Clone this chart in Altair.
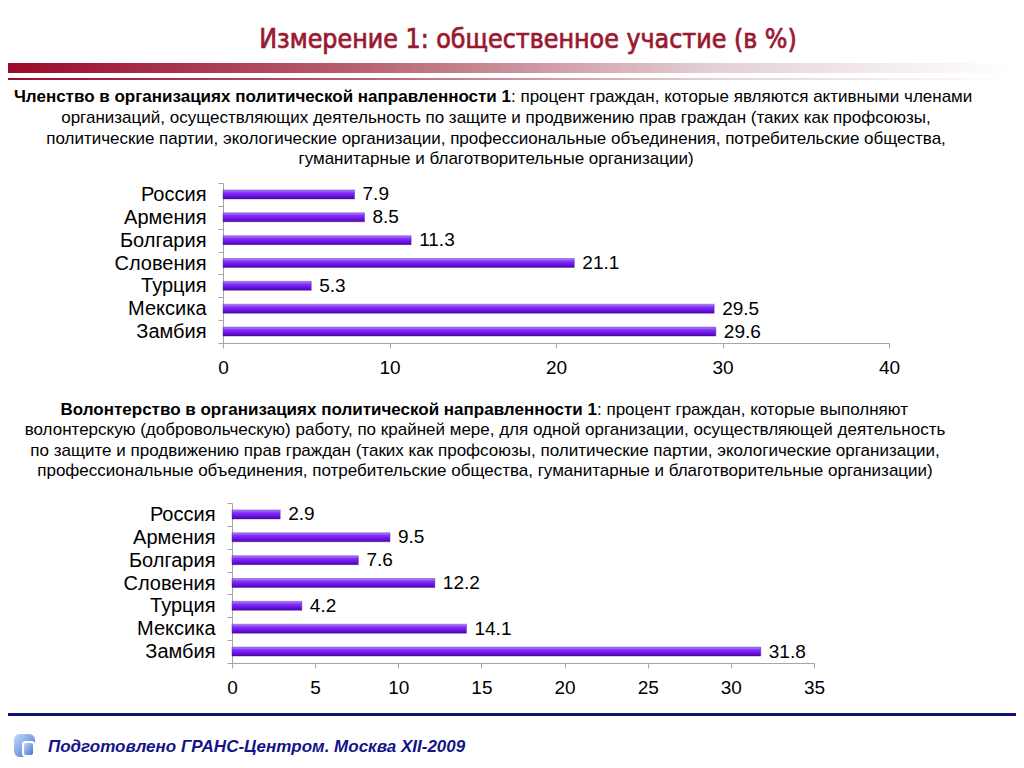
import altair as alt
import pandas as pd

countries = ["Россия", "Армения", "Болгария", "Словения", "Турция", "Мексика", "Замбия"]
membership = [7.9, 8.5, 11.3, 21.1, 5.3, 29.5, 29.6]
volunteer = [2.9, 9.5, 7.6, 12.2, 4.2, 14.1, 31.8]
ticks1 = [0, 10, 20, 30, 40]
ticks2 = [0, 5, 10, 15, 20, 25, 30, 35]

title_text = "Измерение 1: общественное участие (в %)"
block1_bold = "Членство в организациях политической направленности 1"
block1_first = ": процент граждан, которые являются активными членами"
block1_rest = [
    "организаций, осуществляющих деятельность по защите и продвижению прав граждан (таких как профсоюзы,",
    "политические партии, экологические организации, профессиональные объединения, потребительские общества,",
    "гуманитарные и благотворительные организации)",
]
block2_bold = "Волонтерство в организациях политической направленности 1"
block2_first = ": процент граждан, которые выполняют"
block2_rest = [
    "волонтерскую (добровольческую) работу, по крайней мере, для одной организации, осуществляющей деятельность",
    "по защите и продвижению прав граждан (таких как профсоюзы, политические партии, экологические организации,",
    "профессиональные объединения, потребительские общества, гуманитарные и благотворительные организации)",
]
footer_text = "Подготовлено ГРАНС-Центром. Москва XII-2009"

FONT = "Liberation Sans"
one = alt.Data(values=[{"k": 1}])

bar_fill = alt.Gradient(
    gradient="linear", x1=0, x2=0, y1=0, y2=1,
    stops=[
        alt.GradientStop(offset=0, color="#b48cff"),
        alt.GradientStop(offset=0.3, color="#8433f6"),
        alt.GradientStop(offset=0.7, color="#6a10e6"),
        alt.GradientStop(offset=1, color="#4608a0"),
    ],
)
red_fill = alt.Gradient(
    gradient="linear", x1=0, x2=1, y1=0, y2=0,
    stops=[
        alt.GradientStop(offset=0, color="#9b0a2a"),
        alt.GradientStop(offset=0.35, color="#b8606f"),
        alt.GradientStop(offset=0.7, color="#e3cfd4"),
        alt.GradientStop(offset=1, color="#ffffff"),
    ],
)
logo_fill = alt.Gradient(
    gradient="linear", x1=0, x2=1, y1=0, y2=1,
    stops=[
        alt.GradientStop(offset=0, color="#c4daf6"),
        alt.GradientStop(offset=1, color="#3f6fd8"),
    ],
)


def txt(text, x, y, size=17, weight="normal", align="center", color="black",
        style="normal", font=FONT, baseline="middle", stroke_w=0):
    props = dict(
        text=text, font=font, fontSize=size, fontWeight=weight, align=align,
        baseline=baseline, color=color, fontStyle=style,
    )
    if stroke_w:
        props.update(stroke=color, strokeWidth=stroke_w)
    return alt.Chart(one).mark_text(**props).encode(x=alt.value(x), y=alt.value(y))


def box(x, x2, y, y2, fill, radius=0, opacity=1):
    return alt.Chart(one).mark_rect(fill=fill, cornerRadius=radius, opacity=opacity).encode(
        x=alt.value(x), x2=alt.value(x2), y=alt.value(y), y2=alt.value(y2)
    )


def bar_panel(values, domain_max, ticks, x0, width):
    df = pd.DataFrame({"country": countries, "value": values})
    x = alt.X(
        "value:Q",
        scale=alt.Scale(domain=[0, domain_max], range=[x0, width], nice=False),
        axis=alt.Axis(
            values=ticks, title=None, grid=False, domainColor="#a6a6a6",
            tickColor="#a6a6a6", tickSize=5, labelFont=FONT, labelFontSize=19,
            labelColor="black", labelPadding=10, format="d", labelFlush=False,
        ),
    )
    y = alt.Y(
        "country:N", sort=countries,
        scale=alt.Scale(paddingInner=0, paddingOuter=0),
        axis=alt.Axis(
            title=None, domainColor="#a6a6a6", tickColor="#a6a6a6", tickSize=5,
            tickBand="extent", labelFont=FONT, labelFontSize=20, labelColor="black",
            labelPadding=12, offset=-x0,
        ),
    )
    base = alt.Chart(df)
    bars = base.mark_bar(size=9, fill=bar_fill, stroke="#4b14a0", strokeWidth=0.4).encode(x=x, y=y)
    labels = base.mark_text(
        align="left", baseline="middle", dx=8, font=FONT, fontSize=19, color="black"
    ).encode(x=x, y=y, text=alt.Text("value:Q", format=".1f"))
    return bars, labels


bars1, labels1 = bar_panel(membership, 40, ticks1, 0, 666)
bars2, labels2 = bar_panel(volunteer, 35, ticks2, 9, 591)

# panel 1 origin is at page (223, 183); page (8, 8) is panel-1 (-215, -175)
header = [
    box(-215, -214, -175, -174, "#ffffff", opacity=0),
    box(-215, 787, -120, -110, red_fill),
    box(-215, 787, -105, -103, red_fill),
    txt(title_text, 305, -143, size=26.5, weight="normal", color="#9a1830",
        font="Liberation Sans Narrow, Arial Narrow, DejaVu Sans Condensed", stroke_w=0.7),
    txt(block1_bold, 288, -86, weight="bold", align="right"),
    txt(block1_first, 288, -86, align="left"),
] + [txt(line, 273, -65 + 20.5 * i) for i, line in enumerate(block1_rest)]

# panel 2 origin is at page (223, 503)
sub2 = [
    txt(block2_bold, 374, -93, weight="bold", align="right"),
    txt(block2_first, 374, -93, align="left"),
] + [txt(line, 262, -73 + 20.5 * i) for i, line in enumerate(block2_rest)]
footer = [
    box(-215, 793, 210, 213, "#0b1270"),
    box(-209, -188, 231, 254, logo_fill, radius=6),
    box(-201, -188, 238, 254, "#ffffff", radius=3),
    box(-199, -190, 240, 252, logo_fill, radius=2),
    txt(footer_text, -175, 244, size=17, weight="bold", align="left",
        color="#13138a", style="italic"),
]

panel1 = alt.layer(bars1, labels1, *header).properties(width=666, height=160)
panel2 = alt.layer(bars2, labels2, *sub2, *footer).properties(width=591, height=160)

chart = alt.vconcat(panel1, panel2, spacing=160, bounds="flush").properties(
    padding=0,
    autosize=alt.AutoSizeParams(type="pad"),
).configure_view(stroke=None)

chart.save("out.html", embed_options={"renderer": "svg", "actions": False})
